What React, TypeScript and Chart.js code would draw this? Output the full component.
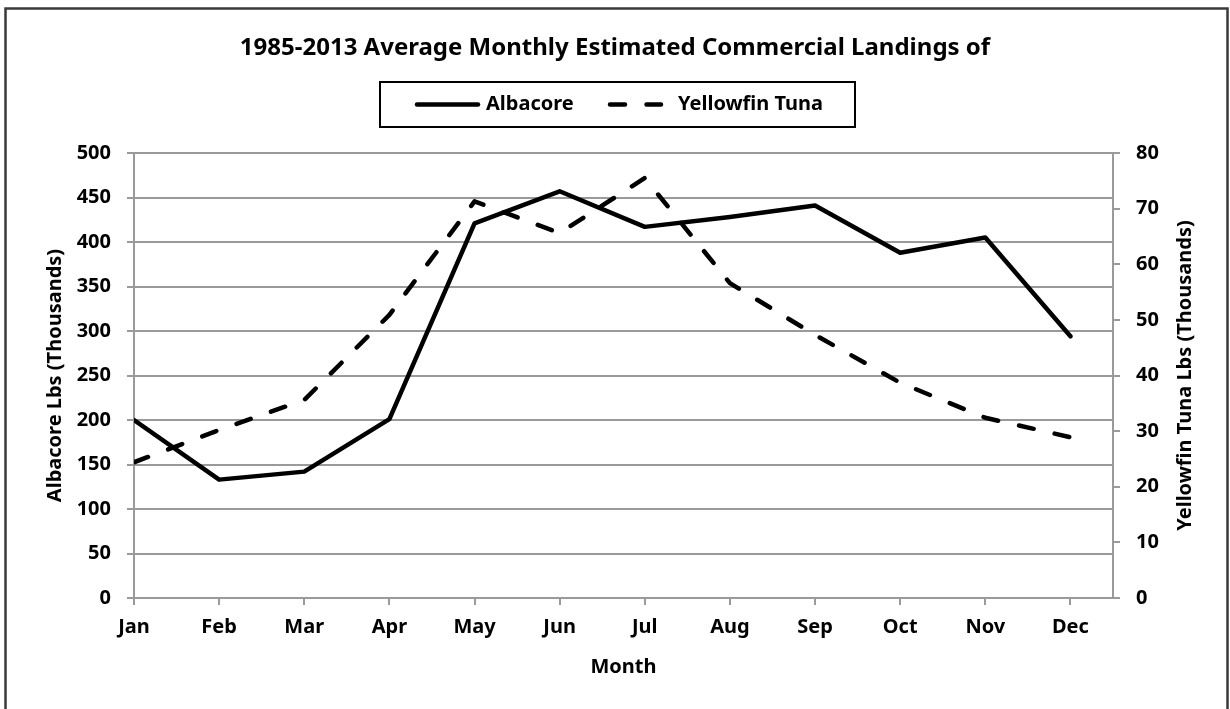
import React, { useEffect, useRef } from 'react';
import { Chart, registerables } from 'chart.js';

Chart.register(...registerables);

// ---- data ----
const months = ['Jan', 'Feb', 'Mar', 'Apr', 'May', 'Jun', 'Jul', 'Aug', 'Sep', 'Oct', 'Nov', 'Dec'];
const albacore = [200, 133, 142, 201, 421, 457, 417, 428, 441, 388, 405, 294];
const yellowfin = [24.4, 30.2, 35.6, 50.9, 71.3, 65.6, 75.5, 56.6, 47.3, 38.7, 32.4, 28.9];
const seriesNames = ['Albacore', 'Yellowfin Tuna'];
const chartTitle = '1985-2013 Average Monthly Estimated Commercial Landings of';
const xTitle = 'Month';
const leftTitle = 'Albacore Lbs (Thousands)';
const rightTitle = 'Yellowfin Tuna Lbs (Thousands)';
const leftMax = 500;
const leftStep = 50;
const rightMax = 80;
const rightStep = 10;

const FONT = '"Noto Sans"';
const GRID = '#9a9a9a';
const W = 1230;
const H = 709;
const TXT = 20;

const decorPlugin = {
  id: 'decor',
  beforeDraw(chart: any) {
    const ctx = chart.ctx;
    ctx.save();
    ctx.fillStyle = '#ffffff';
    ctx.fillRect(0, 0, W, H);
    ctx.restore();
  },
  afterDraw(chart: any) {
    const ctx = chart.ctx;
    ctx.save();
    // outer border
    ctx.strokeStyle = '#3a3a3a';
    ctx.lineWidth = 2.5;
    ctx.strokeRect(5.5, 8.5, 1222, 720);

    // legend box
    ctx.strokeStyle = '#000000';
    ctx.lineWidth = 2;
    ctx.strokeRect(380, 82, 475, 45);
    const ly = 104.5;
    ctx.strokeStyle = '#000000';
    ctx.lineWidth = 4.5;
    ctx.lineCap = 'round';
    ctx.setLineDash([]);
    ctx.beginPath();
    ctx.moveTo(417, ly);
    ctx.lineTo(478, ly);
    ctx.stroke();
    ctx.setLineDash([15, 21.5]);
    ctx.beginPath();
    ctx.moveTo(610, ly);
    ctx.lineTo(661, ly);
    ctx.stroke();
    ctx.setLineDash([]);
    ctx.fillStyle = '#000000';
    ctx.font = `bold ${TXT}px ${FONT}`;
    ctx.textBaseline = 'middle';
    ctx.textAlign = 'left';
    ctx.fillText(seriesNames[0], 486, ly);
    ctx.fillText(seriesNames[1], 678, ly);

    // right axis title (reads bottom-to-top)
    const area = chart.chartArea;
    ctx.translate(1185, (area.top + area.bottom) / 2);
    ctx.rotate(-Math.PI / 2);
    ctx.textAlign = 'center';
    ctx.textBaseline = 'middle';
    ctx.fillText(rightTitle, 0, 0);
    ctx.restore();
  },
};

export default function App() {
  const ref = useRef<HTMLCanvasElement | null>(null);

  useEffect(() => {
    if (!ref.current) return;
    const tickFont = { family: FONT, size: TXT, weight: 'bold' as const };
    const chart = new Chart(ref.current, {
      type: 'line',
      data: {
        datasets: [
          {
            label: seriesNames[0],
            data: albacore.map((v, i) => ({ x: i, y: v })),
            borderColor: '#000000',
            backgroundColor: '#000000',
            borderWidth: 4.5,
            borderJoinStyle: 'round',
            borderCapStyle: 'round',
            pointRadius: 0,
            tension: 0,
            yAxisID: 'y',
          },
          {
            label: seriesNames[1],
            data: yellowfin.map((v, i) => ({ x: i, y: v })),
            borderColor: '#000000',
            backgroundColor: '#000000',
            borderWidth: 4.5,
            borderDash: [15, 21.5],
            borderJoinStyle: 'round',
            borderCapStyle: 'round',
            pointRadius: 0,
            tension: 0,
            yAxisID: 'y1',
          },
        ],
      },
      options: {
        responsive: false,
        animation: false,
        events: [],
        layout: { padding: { left: 0, right: 0, top: 0, bottom: 0 } },
        plugins: {
          legend: { display: false },
          tooltip: { enabled: false },
          title: {
            display: true,
            text: chartTitle,
            color: '#000000',
            font: { family: FONT, size: 24, weight: 'bold' },
            padding: { top: 33.6, bottom: 90.6 },
          },
        },
        scales: {
          x: {
            type: 'linear',
            position: 'bottom',
            min: 0,
            max: months.length - 0.5,
            afterFit: (s: any) => { s.height = 111; },
            ticks: {
              stepSize: 1,
              includeBounds: false,
              autoSkip: false,
              maxRotation: 0,
              minRotation: 0,
              color: '#000000',
              font: tickFont,
              padding: 10,
              callback: (v: any) => (Number.isInteger(v) && months[v] !== undefined ? months[v] : ''),
            },
            grid: { display: true, drawOnChartArea: false, drawTicks: true, tickLength: 7, color: GRID, lineWidth: 2 },
            border: { display: true, color: GRID, width: 2 },
            title: { display: true, text: xTitle, color: '#000000', font: tickFont, padding: { top: 0, bottom: 30 } },
          },
          y: {
            type: 'linear',
            position: 'left',
            min: 0,
            max: leftMax,
            afterFit: (s: any) => { s.width = 134; },
            ticks: { stepSize: leftStep, color: '#000000', font: tickFont, padding: 16 },
            grid: { display: true, drawOnChartArea: true, drawTicks: true, tickLength: 7, color: GRID, lineWidth: 2 },
            border: { display: true, color: GRID, width: 2 },
            title: { display: true, text: leftTitle, color: '#000000', font: tickFont, padding: { top: 43, bottom: 0 } },
          },
          y1: {
            type: 'linear',
            position: 'right',
            min: 0,
            max: rightMax,
            afterFit: (s: any) => { s.width = 117; },
            ticks: { stepSize: rightStep, color: '#000000', font: tickFont, padding: 16 },
            grid: { display: true, drawOnChartArea: false, drawTicks: true, tickLength: 7, color: GRID, lineWidth: 2 },
            border: { display: true, color: GRID, width: 2 },
          },
        },
      },
      plugins: [decorPlugin],
    } as any);
    return () => chart.destroy();
  }, []);

  return (
    <div style={{ position: 'absolute', left: 0, top: 0, width: W, height: H, background: '#fff' }}>
      <canvas ref={ref} width={W} height={H} style={{ display: 'block', width: W, height: H }} />
    </div>
  );
}
